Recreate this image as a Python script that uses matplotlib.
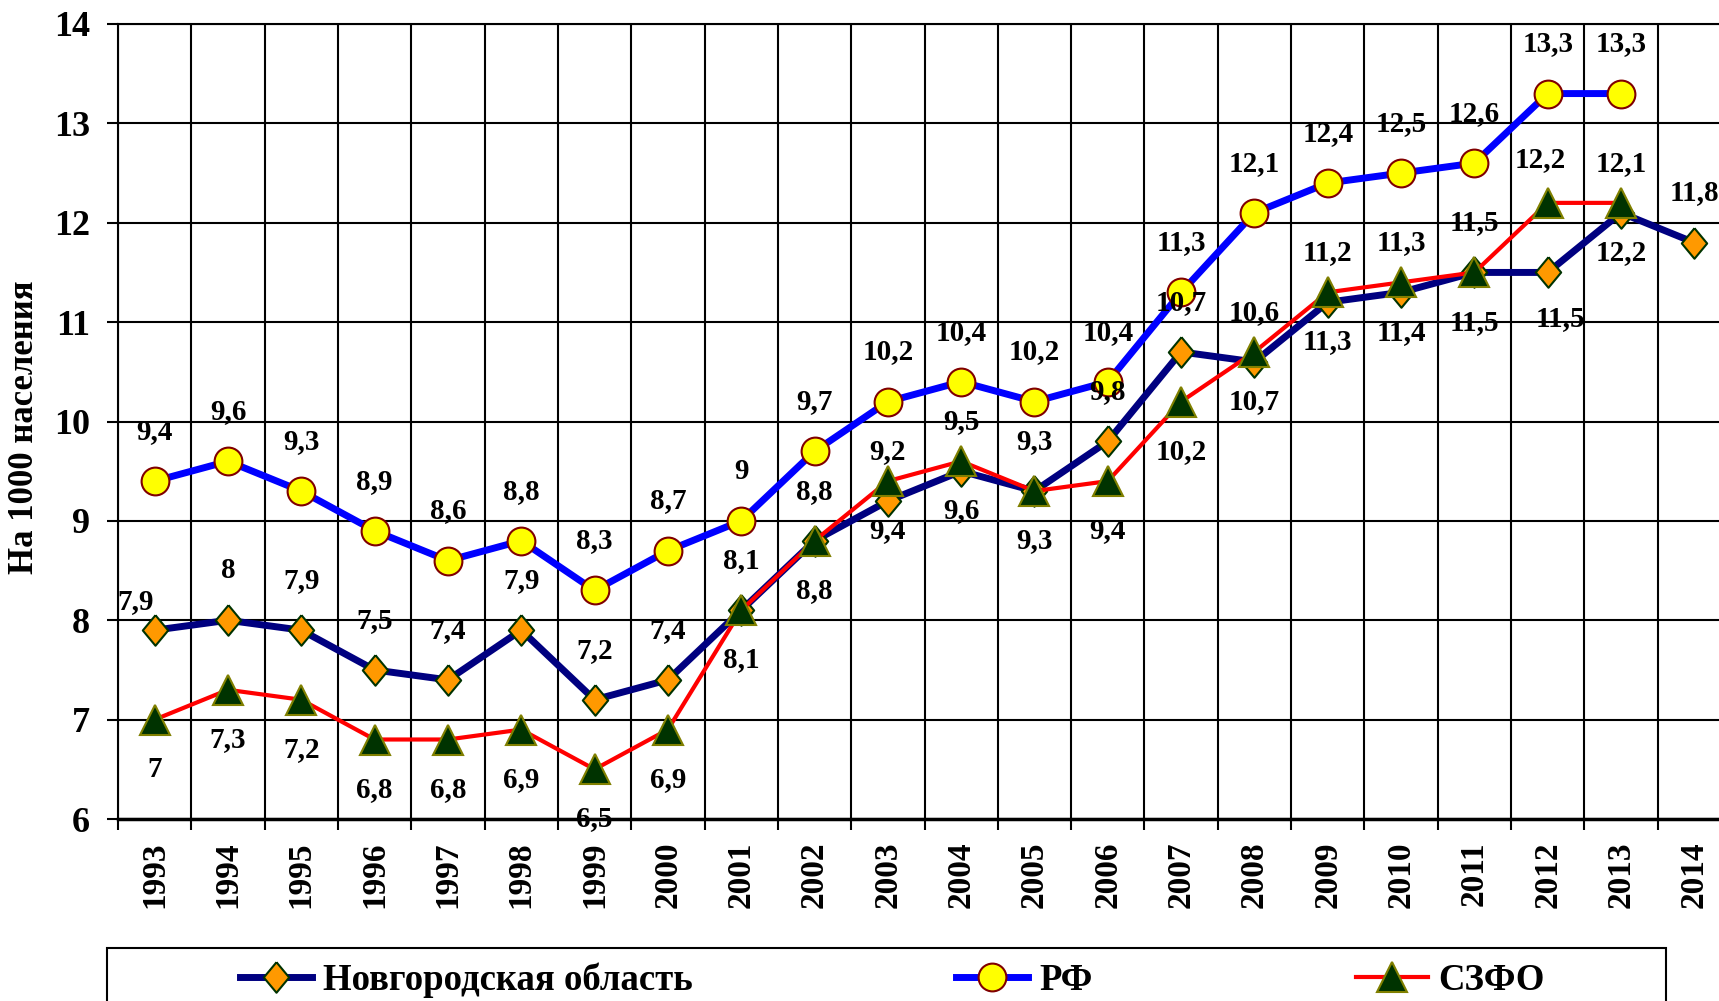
import numpy as np
import matplotlib
matplotlib.use("Agg")
import matplotlib.pyplot as plt
from matplotlib.patches import Rectangle

years = ['1993', '1994', '1995', '1996', '1997', '1998', '1999', '2000', '2001', '2002', '2003',
         '2004', '2005', '2006', '2007', '2008', '2009', '2010', '2011', '2012', '2013', '2014']

novgorod = [7.9, 8, 7.9, 7.5, 7.4, 7.9, 7.2, 7.4, 8.1, 8.8, 9.2,
            9.5, 9.3, 9.8, 10.7, 10.6, 11.2, 11.3, 11.5, 11.5, 12.1, 11.8]
rf = [9.4, 9.6, 9.3, 8.9, 8.6, 8.8, 8.3, 8.7, 9, 9.7, 10.2,
      10.4, 10.2, 10.4, 11.3, 12.1, 12.4, 12.5, 12.6, 13.3, 13.3, None]
szfo = [7, 7.3, 7.2, 6.8, 6.8, 6.9, 6.5, 6.9, 8.1, 8.8, 9.4,
        9.6, 9.3, 9.4, 10.2, 10.7, 11.3, 11.4, 11.5, 12.2, 12.2, None]

labels = ['Новгородская область', 'РФ', 'СЗФО']

# where the value labels sit, relative to the point (x in categories, y in data units)
nov_dx = [-0.26] + [0] * 18 + [0.18, 0, 0]
nov_dy = [0.29] + [0.5] * 18 + [-0.46, 0.5, 0.5]
szfo_dx = [0] * 19 + [-0.1, 0, 0]
szfo_dy = [-0.5] * 19 + [0.44, -0.5, -0.5]

plt.rcParams['font.family'] = ['Liberation Serif', 'DejaVu Serif']
plt.rcParams['font.weight'] = 'bold'

W, H = 1719, 1001
fig = plt.figure(figsize=(W / 100, H / 100), dpi=100)
ax = fig.add_axes([118 / W, 1 - 819 / H, 1613 / W, 795 / H])

x = np.arange(len(years))
rf_v = np.array([np.nan if v is None else v for v in rf])
szfo_v = np.array([np.nan if v is None else v for v in szfo])

diamond = [(0, 1), (0.83, 0), (0, -1), (-0.83, 0), (0, 1)]
l1, = ax.plot(x, novgorod, color='#000080', lw=5, marker=diamond, ms=22,
              mfc='#FF9900', mec='#003300', mew=1.5, zorder=3)
l2, = ax.plot(x, rf_v, color='#0000FF', lw=5, marker='o', ms=20,
              mfc='#FFFF00', mec='#800000', mew=1.5, zorder=4)
l3, = ax.plot(x, szfo_v, color='#FF0000', lw=3, marker='^', ms=21,
              mfc='#003300', mec='#808000', mew=1.5, zorder=5)

def fmt(v):
    return ('%g' % v).replace('.', ',')

fs = 21
for i, v in enumerate(rf):
    if v is not None:
        ax.text(i, v + 0.5, fmt(v), ha='center', va='center', fontsize=fs, zorder=10)
for i, v in enumerate(novgorod):
    ax.text(i + nov_dx[i], v + nov_dy[i], fmt(v), ha='center', va='center', fontsize=fs, zorder=10)
for i, v in enumerate(szfo):
    if v is not None:
        ax.text(i + szfo_dx[i], v + szfo_dy[i], fmt(v), ha='center', va='center', fontsize=fs, zorder=10)

ax.set_xlim(-0.5, len(years) - 0.5)
ax.set_ylim(6, 14)
ax.set_yticks(range(6, 15))
ax.set_xticks(np.arange(-0.5, len(years), 1))
ax.set_xticklabels([])
ax.set_xticks(x, minor=True)
ax.set_xticklabels(years, minor=True, rotation=90, fontsize=24)
ax.tick_params(axis='x', which='minor', length=0, pad=16)
ax.tick_params(axis='x', which='major', length=8, width=1.5, direction='out')
ax.tick_params(axis='y', length=8, width=1.5, direction='out', pad=12, labelsize=26)

ax.grid(True, which='major', color='black', lw=1.5, zorder=0)
ax.set_axisbelow(True)
for s in ['left', 'top']:
    ax.spines[s].set_linewidth(1.5)
ax.spines['bottom'].set_linewidth(2.5)
ax.spines['right'].set_visible(False)

fig.text(25 / W, 1 - 427 / H, 'На 1000 населения', rotation=90, ha='center', va='center', fontsize=25)

fig.patches.append(Rectangle((107 / W, -0.05), (1666 - 107) / W, (1001 - 948) / H + 0.05,
                             transform=fig.transFigure, fill=False, ec='black', lw=1.5))
fig.legend([l1, l2, l3], labels, loc='center', ncol=3, mode='expand', frameon=False,
           bbox_to_anchor=(240 / W, 1 - 1000 / H, (1545 - 240) / W, 40 / H),
           borderpad=0, borderaxespad=0, handlelength=1.95, handletextpad=0.3,
           prop={'size': 26.5, 'weight': 'bold'})

fig.savefig('out.png', dpi=100)
